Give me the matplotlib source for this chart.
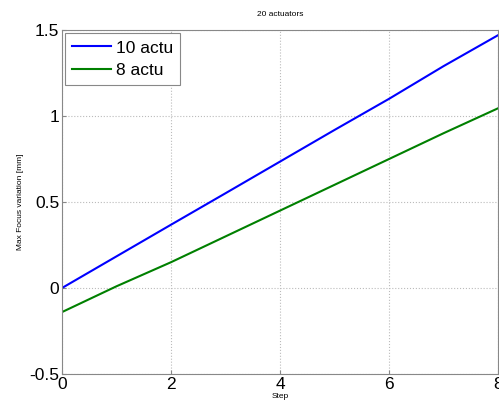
import numpy as np
import matplotlib.pyplot as plt

plt.rcParams['font.family'] = ['Liberation Sans', 'DejaVu Sans']

# data
steps = [0, 1, 2, 3, 4, 5, 6, 7, 8]
actu10 = [0.0, 0.184, 0.368, 0.551, 0.735, 0.919, 1.10, 1.29, 1.47]
actu8 = [-0.14, 0.01, 0.15, 0.30, 0.45, 0.60, 0.75, 0.90, 1.045]

fig = plt.figure(figsize=(4.99, 4.11), dpi=100)
ax = fig.add_axes([0.1242, 0.090, 0.874, 0.837])

ax.plot(steps, actu10, color='#0000ff', lw=1.5, label='10 actu')
ax.plot(steps, actu8, color='#008000', lw=1.5, label='8 actu')

ax.set_xlim(0, 8)
ax.set_ylim(-0.5, 1.5)
ax.set_xticks([0, 2, 4, 6, 8])
ax.set_yticks([-0.5, 0, 0.5, 1, 1.5])
ax.set_yticklabels(['-0.5', '0', '0.5', '1', '1.5'])
ax.tick_params(direction='in', labelsize=12.5, length=3, color='#888888', pad=2)
ax.grid(True, linestyle=':', color='#bbbbbb', lw=0.8)
for s in ax.spines.values():
    s.set_color('#888888')

ax.set_title('20 actuators', fontsize=6, pad=10)
ax.set_xlabel('Step', fontsize=6, labelpad=1)
ax.set_ylabel('Max Focus variation [mm]', fontsize=6, labelpad=4)

leg = ax.legend(loc='upper left', fontsize=12.5, fancybox=False, framealpha=1,
                borderaxespad=0.2, handlelength=2.2, handletextpad=0.3,
                labelspacing=0.4, borderpad=0.4)
leg.get_frame().set_edgecolor('#888888')
leg.get_frame().set_linewidth(0.8)

fig.savefig('out.png', dpi=100)
